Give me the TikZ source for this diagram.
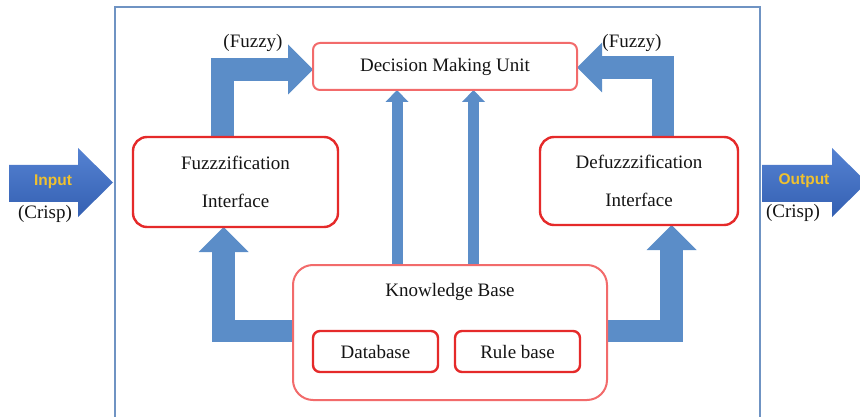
\documentclass[tikz,border=0pt]{standalone}
\usepackage{fontspec}
\setmainfont{Liberation Serif}
\newfontfamily\labelsans{Liberation Sans}
\usetikzlibrary{arrows.meta,calc}

\definecolor{flowblue}{HTML}{5B8DC8}
\definecolor{iotop}{HTML}{5582D2}
\definecolor{iobot}{HTML}{3460B2}
\definecolor{framecol}{HTML}{6F93C3}
\definecolor{boxred}{HTML}{E52A2A}
\definecolor{softred}{HTML}{F26B6B}
\definecolor{iotext}{HTML}{F0C12E}
\definecolor{ink}{HTML}{141414}

\tikzset{
  txt/.style={font=\fontsize{19}{22}\selectfont, text=ink},
  unitbox/.style={draw=boxred, line width=2.4pt, fill=white, rounded corners=14pt,
    align=center, txt, font=\fontsize{19}{38}\selectfont},
  softbox/.style={draw=softred, line width=2pt, fill=white, txt},
  smallbox/.style={draw=boxred, line width=2.4pt, fill=white, rounded corners=7pt, txt},
  bigflow/.style={draw=flowblue, line width=22.5pt, line join=miter,
    -{Triangle[length=25pt, width=50pt, line width=0pt]}},
  thinflow/.style={draw=flowblue, line width=11pt,
    -{Triangle[length=12pt, width=23pt, line width=0pt]}},
  iolabel/.style={font=\labelsans\bfseries\fontsize{15.5}{18}\selectfont, text=iotext},
}

\begin{document}
\begin{tikzpicture}[x=1pt, y=-1pt]
  \useasboundingbox (0,0) rectangle (860,417);
  \clip (0,0) rectangle (860,417);

  % outer frame of the controller
  \draw[framecol, line width=2pt] (115,7) rectangle (760,430);

  % centres of the main blocks
  \path
    (445,66.5) coordinate (dmuC)
    (235.5,182) coordinate (fzC)
    (639,181) coordinate (dfzC)
    (450,332.5) coordinate (kbC);

  % invisible node copies used for routing
  \node[minimum width=264pt, minimum height=47pt, inner sep=0pt, outer sep=0pt] (dmu) at (dmuC) {};
  \node[minimum width=205pt, minimum height=90pt, inner sep=0pt, outer sep=0pt] (fz) at (fzC) {};
  \node[minimum width=198pt, minimum height=88pt, inner sep=0pt, outer sep=0pt] (dfz) at (dfzC) {};
  \node[minimum width=314pt, minimum height=135pt, inner sep=0pt, outer sep=0pt] (kb) at (kbC) {};

  % connectors
  \draw[bigflow] ([xshift=-13pt]fz.north) |- ([yshift=-3pt]dmu.west);
  \draw[bigflow] ([xshift=24pt]dfz.north) |- ([yshift=-1pt]dmu.east);
  \draw[bigflow] ([yshift=1.5pt]kb.west) -| ([xshift=-12pt]fz.south);
  \draw[bigflow] ([yshift=1.5pt]kb.east) -| ([xshift=32.5pt]dfz.south);
  \draw[thinflow] ([xshift=-53pt]kb.north) -- ([xshift=-53pt]kb.north |- dmu.south);
  \draw[thinflow] ([xshift=23.5pt]kb.north) -- ([xshift=23.5pt]kb.north |- dmu.south);

  % boxes
  \node[softbox, rounded corners=7pt, minimum width=264pt, minimum height=47pt,
        inner sep=0pt] (dmubox) at (dmuC) {Decision Making Unit};
  \node[unitbox, minimum width=205pt, minimum height=90pt, inner sep=0pt]
        (fzbox) at (fzC) {Fuzzzification\\Interface};
  \node[unitbox, minimum width=198pt, minimum height=88pt, inner sep=0pt]
        (dfzbox) at (dfzC) {Defuzzzification\\Interface};
  \node[softbox, rounded corners=20pt, minimum width=314pt, minimum height=135pt,
        inner sep=0pt] (kbbox) at (kbC) {};
  \node[txt] (kbtitle) at (450,292) {Knowledge Base};
  \node[smallbox, minimum width=125pt, minimum height=41pt, inner sep=0pt]
        (db) at (375.5,351.5) {Database};
  \node[smallbox, minimum width=125pt, minimum height=41pt, inner sep=0pt]
        (rb) at (517.5,351.5) {Rule base};

  % labels on the fuzzy links
  \node[txt] (fuzzyL) at (253,43) {(Fuzzy)};
  \node[txt] (fuzzyR) at (632,43) {(Fuzzy)};

  % crisp input arrow
  \shade[top color=iotop, bottom color=iobot]
    (9,165) -- (78,165) -- (78,148) -- (113,182.5) -- (78,217) -- (78,202) -- (9,202) -- cycle;
  \node[iolabel] (inlbl) at (53,182) {Input};
  \node[txt] (incrisp) at (45,214) {(Crisp)};

  % crisp output arrow
  \shade[top color=iotop, bottom color=iobot]
    (762,165) -- (832,165) -- (832,148) -- (867,182.5) -- (832,217) -- (832,202) -- (762,202) -- cycle;
  \node[iolabel] (outlbl) at (804,181) {Output};
  \node[txt] (outcrisp) at (793,213) {(Crisp)};
\end{tikzpicture}
\end{document}
